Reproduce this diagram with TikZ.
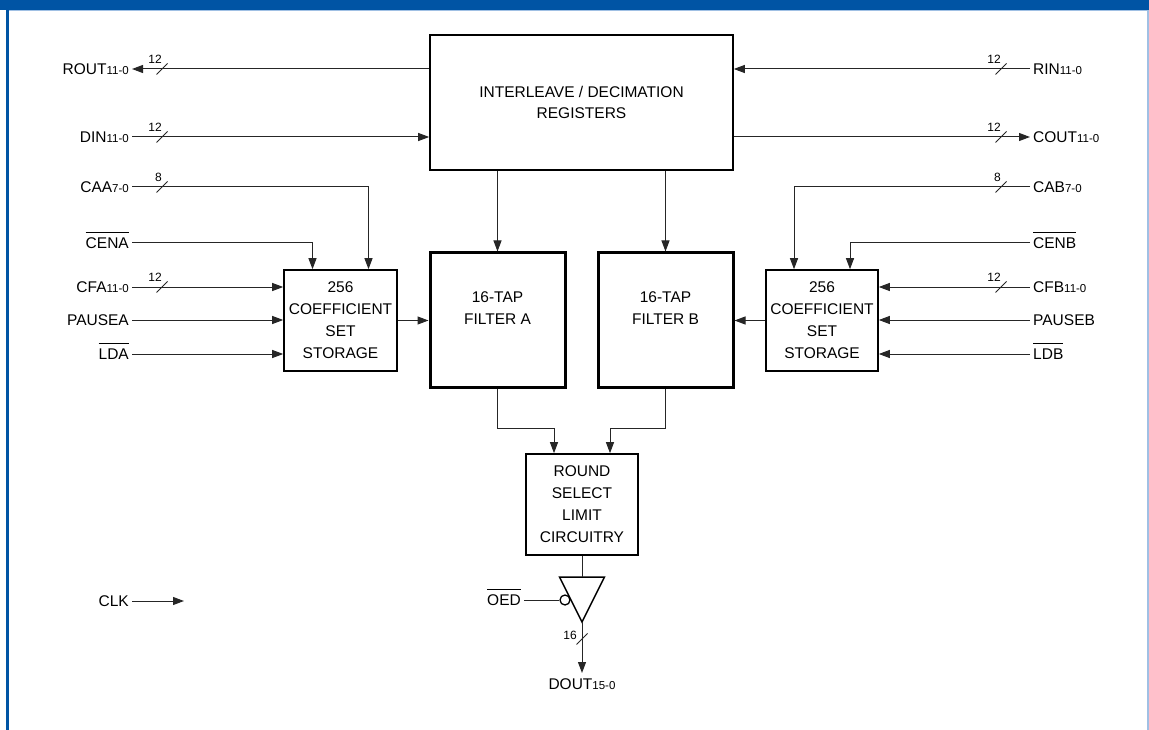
\documentclass[tikz,border=0pt]{standalone}
\usepackage{fontspec}
\setmainfont{Liberation Sans}
\usetikzlibrary{arrows.meta,positioning}

\definecolor{hdrblue}{RGB}{0,84,164}
\definecolor{edgeblue}{RGB}{160,192,228}

\newcommand{\bitrange}[1]{{\fontsize{11.5}{12}\selectfont #1}}
\newcommand{\activelow}[1]{\vbox{\hrule height 1pt\kern 5pt\hbox{#1}}}

\tikzset{
  sig/.style={draw=black!85, line width=1pt},
  lbl/.style={font=\fontsize{15.5}{18}\selectfont, inner xsep=3pt, inner ysep=0pt,
    text height=11pt, text depth=0pt},
  blk/.style={draw, line width=1.6pt, inner sep=0pt},
  blktext/.style={align=center, font=\fontsize{15.5}{22}\selectfont, inner sep=0pt},
  buslbl/.style={font=\fontsize{12}{13}\selectfont, inner sep=0pt},
  pics/bus/.style={code={
    \draw[sig] (-5.5,5.5) -- (5.5,-5.5);
    \node[buslbl, anchor=south east] (-w) at (0,-5) {#1};}},
  pics/vbus/.style={code={
    \draw[sig] (-5.5,5.5) -- (5.5,-5.5);
    \node[buslbl, anchor=east] (-w) at (-5,-4) {#1};}},
}

\begin{document}
\begin{tikzpicture}[x=1pt, y=-1pt, >={Triangle[length=11pt,width=8pt]}]
  \useasboundingbox (0,0) rectangle (1149,730);

  %frame
  \fill[hdrblue] (0,0) rectangle (1149,10);
  \draw[edgeblue, line width=1pt] (9,10.5) -- (1149,10.5);
  \draw[hdrblue, line width=3pt] (7.5,0) -- (7.5,730);
  \draw[edgeblue, line width=1.5pt] (1148,11) -- (1148,730);

  %blocks
  \node[blk, minimum width=303pt, minimum height=135pt] (inter) at (581.5,102.5) {};
  \node[blktext, align=center] (inter-t) at (581.5,102.5) {INTERLEAVE / DECIMATION\\[-1pt]REGISTERS};
  \node[blk, line width=3pt, minimum width=135pt, minimum height=134pt] (fa) at (497.5,320) {};
  \node[blktext] (fa-t) at (497.5,308.5) {16-TAP\\FILTER A};
  \node[blk, line width=3pt, minimum width=135pt, minimum height=134pt] (fb) at (665.5,320) {};
  \node[blktext] (fb-t) at (665.5,308.5) {16-TAP\\FILTER B};
  \node[blk, minimum width=113pt, minimum height=101pt] (coefa) at (340.5,320.5) {};
  \node[blktext] (coefa-t) at (340.5,320.5) {256\\COEFFICIENT\\SET\\STORAGE};
  \node[blk, minimum width=112pt, minimum height=101pt] (coefb) at (822,320.5) {};
  \node[blktext] (coefb-t) at (822,320.5) {256\\COEFFICIENT\\SET\\STORAGE};
  \node[blk, minimum width=112pt, minimum height=101pt] (rnd) at (582,504.5) {};
  \node[blktext] (rnd-t) at (582,504.5) {ROUND\\SELECT\\LIMIT\\CIRCUITRY};

  %left side signals
  \node[lbl, anchor=east] (rout) at (132,69) {ROUT\bitrange{11-0}};
  \node[lbl, anchor=east] (din) at (132,137) {DIN\bitrange{11-0}};
  \node[lbl, anchor=east] (caa) at (132,187) {CAA\bitrange{7-0}};
  \node[lbl, anchor=east] (cena) at (132,243) {\activelow{CENA}};
  \node[lbl, anchor=east] (cfa) at (132,287) {CFA\bitrange{11-0}};
  \node[lbl, anchor=east] (pausea) at (132,320) {PAUSEA};
  \node[lbl, anchor=east] (lda) at (132,354) {\activelow{LDA}};
  \node[lbl, anchor=east] (clk) at (132,601) {CLK};
  \coordinate (clkend) at (184,601);

  %right side signals
  \node[lbl, anchor=west] (rin) at (1030,69) {RIN\bitrange{11-0}};
  \node[lbl, anchor=west] (cout) at (1030,137) {COUT\bitrange{11-0}};
  \node[lbl, anchor=west] (cab) at (1030,187) {CAB\bitrange{7-0}};
  \node[lbl, anchor=west] (cenb) at (1030,243) {\activelow{CENB}};
  \node[lbl, anchor=west] (cfb) at (1030,287) {CFB\bitrange{11-0}};
  \node[lbl, anchor=west] (pauseb) at (1030,320) {PAUSEB};
  \node[lbl, anchor=west] (ldb) at (1030,354) {\activelow{LDB}};

  %output stage
  \coordinate (bufin) at (582,577);
  \coordinate (bufout) at (582,622);
  \draw[line width=1.5pt, line join=miter] ([xshift=-22.5pt]bufin) -- ([xshift=22.5pt]bufin) -- (bufout) -- cycle;
  \node[circle, draw, line width=1.3pt, minimum size=10pt, inner sep=0pt] (bubble) at (565,600) {};
  \node[lbl, anchor=east] (oed) at (524,600) {\activelow{OED}};
  \node[lbl, anchor=north] (dout) at (582,678) {DOUT\bitrange{15-0}};

  %connectors, interleave block
  \draw[sig,<-] (rout.east) -- (rout.east -| inter.west);
  \draw[sig,->] (din.east) -- (din.east -| inter.west);
  \draw[sig,->] (rin.west) -- (rin.west -| inter.east);
  \draw[sig,->] (cout.west -| inter.east) -- (cout.west);
  \draw[sig,->] (inter.south -| fa.north) -- (fa.north);
  \draw[sig,->] (inter.south -| fb.north) -- (fb.north);

  %coefficient storage A
  \draw[sig,->] (caa.east) -| ([xshift=28pt]coefa.north);
  \draw[sig,->] (cena.east) -| ([xshift=-28pt]coefa.north);
  \foreach \s in {cfa, pausea, lda}
    \draw[sig,->] (\s.east) -- (\s.east -| coefa.west);
  \draw[sig,->] (coefa.east) -- (coefa.east -| fa.west);

  %coefficient storage B
  \draw[sig,->] (cab.west) -| ([xshift=-28pt]coefb.north);
  \draw[sig,->] (cenb.west) -| ([xshift=28pt]coefb.north);
  \foreach \s in {cfb, pauseb, ldb}
    \draw[sig,->] (\s.west) -- (\s.west -| coefb.east);
  \draw[sig,->] (coefb.west) -- (coefb.west -| fb.east);

  %filters to output
  \draw[sig,->] (fa.south) -- ++(0,40) -| ([xshift=-28pt]rnd.north);
  \draw[sig,->] (fb.south) -- ++(0,40) -| ([xshift=28pt]rnd.north);
  \draw[sig] (rnd.south) -- (bufin);
  \draw[sig] (oed.east) -- (bubble.west);
  \draw[sig,->] (bufout) -- ([yshift=5pt]dout.north);
  \draw[sig,->] (clk.east) -- (clkend);

  %bus widths
  \pic (routw) at (162,69) {bus=12};
  \pic (dinw) at (162,137) {bus=12};
  \pic (caaw) at (162,187) {bus=8};
  \pic (cfaw) at (162,287) {bus=12};
  \pic (rinw) at (1001,69) {bus=12};
  \pic (coutw) at (1001,137) {bus=12};
  \pic (cabw) at (1001,187) {bus=8};
  \pic (cfbw) at (1001,287) {bus=12};
  \pic (doutw) at (582,639) {vbus=16};
\end{tikzpicture}
\end{document}
